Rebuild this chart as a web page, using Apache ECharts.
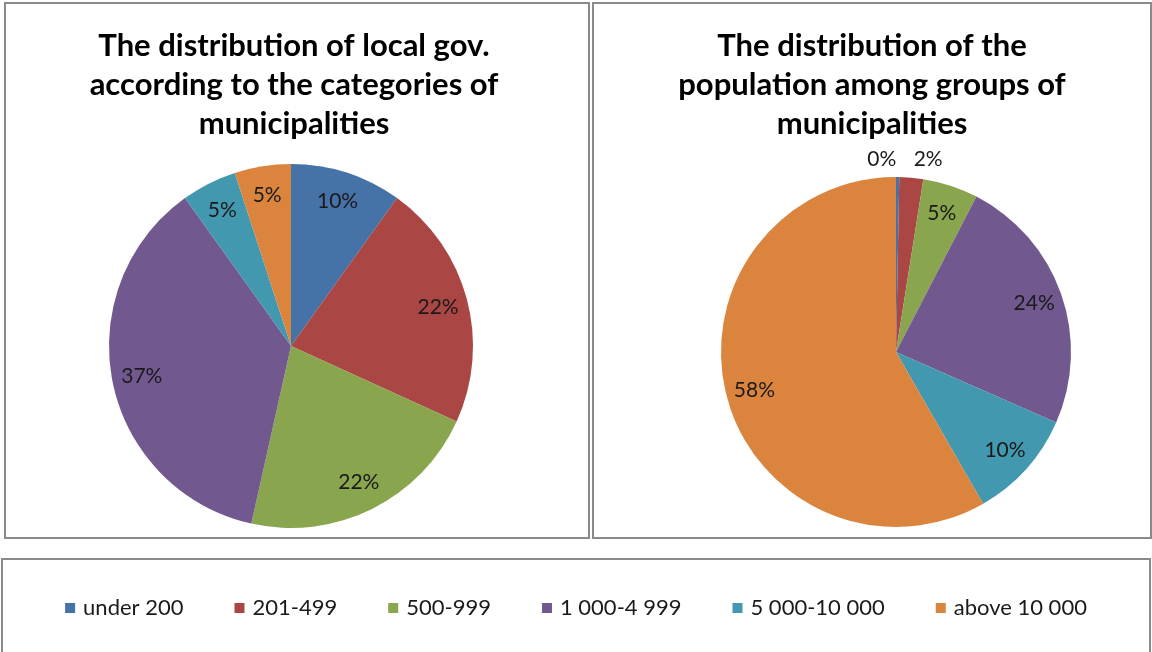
<!DOCTYPE html>
<html>
<head>
<meta charset="utf-8">
<script src="https://cdn.jsdelivr.net/npm/echarts@6/dist/echarts.min.js"></script>
<style>
html,body{margin:0;padding:0;background:#fff;}
#chart{width:1152px;height:652px;}
</style>
</head>
<body>
<div id="chart"></div>
<script>
// ---- data ----
const categories = ['under 200', '201-499', '500-999', '1 000-4 999', '5 000-10 000', 'above 10 000'];
const localGovShare = [9.9, 21.9, 21.7, 36.6, 4.9, 5.0];
const populationShare = [0.3, 2.2, 5.1, 24.0, 10.1, 58.3];
const titleLeft = 'The distribution of local gov.\naccording to the categories of\nmunicipalities';
const titleRight = 'The distribution of the\npopulation among groups of\nmunicipalities';
const colors = ['#4572A7', '#AA4643', '#89A54E', '#71588F', '#4198AF', '#DB843D'];

// ---- build ----
const chart = echarts.init(document.getElementById('chart'));
const FONT = 'Lato, "Open Sans", sans-serif';
const labelStyle = { color: '#1a1a1a', fontSize: 21, fontFamily: FONT };
const fmt = p => Math.round(p.percent) + '%';
const mk = vals => vals.map((v, i) => ({ name: categories[i], value: v }));

const L = { c: [291, 346], r: 182 };
const R = { c: [896, 352], r: 175 };

function mainPie(cfg, vals) {
  return {
    type: 'pie', center: cfg.c, radius: [0, cfg.r], startAngle: 90,
    data: mk(vals), label: { show: false }, labelLine: { show: false },
    itemStyle: { borderWidth: 0 }, emphasis: { disabled: true }
  };
}
function labelRing(cfg, vals, hideIdx) {
  return {
    type: 'pie', center: cfg.c, radius: [cfg.r * 0.64, cfg.r], startAngle: 90,
    silent: true, emphasis: { disabled: true },
    data: mk(vals).map((d, i) => Object.assign(d, {
      itemStyle: { color: 'rgba(0,0,0,0)' },
      label: { show: hideIdx.indexOf(i) < 0 }
    })),
    label: Object.assign({ show: true, position: 'inside', formatter: fmt }, labelStyle),
    labelLine: { show: false }
  };
}

const smallOffsets = { 0: [-16, 2], 1: [15, 1] };
const titleStyle = { fontFamily: FONT, fontWeight: 'bold', fontSize: 31, lineHeight: 39, color: '#000' };

const option = {
  backgroundColor: '#fff',
  color: colors,
  animation: false,
  title: [
    { text: titleLeft, left: 289, top: 21, textAlign: 'center', textStyle: titleStyle },
    { text: titleRight, left: 867, top: 21, textAlign: 'center', textStyle: titleStyle }
  ],
  legend: {
    data: categories, left: 'center', top: 592, icon: 'rect',
    itemWidth: 10, itemHeight: 10, itemGap: 51,
    textStyle: { fontFamily: FONT, fontSize: 22, color: '#1a1a1a', padding: [0, 0, 0, 3] },
    selectedMode: false
  },
  graphic: [
    { type: 'rect', shape: { x: 5, y: 3, width: 584, height: 535 }, style: { fill: 'none', stroke: '#8a8a8a', lineWidth: 2 }, z: 100 },
    { type: 'rect', shape: { x: 593, y: 3, width: 558, height: 535 }, style: { fill: 'none', stroke: '#8a8a8a', lineWidth: 2 }, z: 100 },
    { type: 'rect', shape: { x: 2, y: 559, width: 1148, height: 100 }, style: { fill: 'none', stroke: '#8a8a8a', lineWidth: 2 }, z: 100 }
  ],
  series: [
    mainPie(L, localGovShare),
    mainPie(R, populationShare),
    labelRing(L, localGovShare, []),
    labelRing(R, populationShare, [0, 1]),
    {
      type: 'pie', center: R.c, radius: [R.r, R.r + 34], startAngle: 90,
      silent: true, emphasis: { disabled: true },
      data: mk(populationShare).map((d, i) => Object.assign(d, {
        itemStyle: { color: 'rgba(0,0,0,0)' },
        label: smallOffsets[i] ? { show: true, offset: smallOffsets[i] } : { show: false }
      })),
      label: Object.assign({ show: true, position: 'inside', formatter: fmt }, labelStyle),
      labelLine: { show: false }
    }
  ]
};
chart.setOption(option);
</script>
</body>
</html>
